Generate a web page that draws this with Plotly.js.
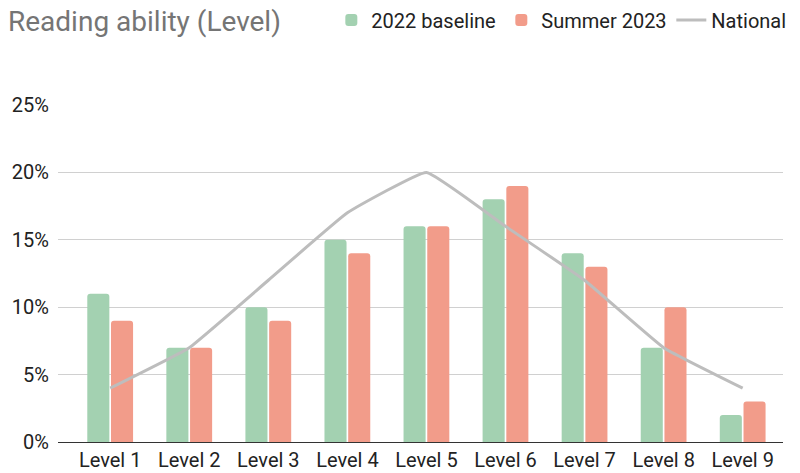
<!DOCTYPE html>
<html><head><meta charset="utf-8">
<script src="https://cdn.plot.ly/plotly-3.0.1.min.js"></script>
<style>html,body{margin:0;padding:0;background:#fff;}#chart{width:800px;height:473px;}</style>
</head><body><div id="chart"></div>
<script>
const categories = ["Level 1","Level 2","Level 3","Level 4","Level 5","Level 6","Level 7","Level 8","Level 9"];
const baseline2022 = [0.11,0.07,0.10,0.15,0.16,0.18,0.14,0.07,0.02];
const summer2023 = [0.09,0.07,0.09,0.14,0.16,0.19,0.13,0.10,0.03];
const national = [0.04,0.07,0.12,0.17,0.20,0.16,0.12,0.07,0.04];
const yTicks = [0,0.05,0.10,0.15,0.20,0.25];
const yTickLabels = ["0%","5%","10%","15%","20%","25%"];

const font = "Roboto, 'Open Sans', Arial, sans-serif";
const data = [
  {type:'bar', name:'2022 baseline', x:categories, y:baseline2022, marker:{color:'#a3d1b1', cornerradius:3}, hoverinfo:'none'},
  {type:'bar', name:'Summer 2023', x:categories, y:summer2023, marker:{color:'#f29c8a', cornerradius:3}, hoverinfo:'none'},
  {type:'scatter', mode:'lines', name:'National', x:categories, y:national, line:{color:'#bdbdbd', width:3, shape:'spline', smoothing:0.3}, hoverinfo:'none'}
];
const layout = {
  width:800, height:473,
  margin:{l:58, r:17, t:105, b:31, autoexpand:false},
  paper_bgcolor:'#fff', plot_bgcolor:'#fff',
  font:{family:font, size:20, color:'#222'},
  title:{text:'Reading ability (Level)', x:0.01, xanchor:'left', y:0.955, yanchor:'middle', font:{family:font, size:28, color:'#757575'}},
  barmode:'group', bargap:0.4, bargroupgap:0.07,
  showlegend:true,
  legend:{orientation:'h', x:0.377, xanchor:'left', y:1.252, yanchor:'middle', font:{family:font, size:20, color:'#222'}, traceorder:'normal', itemwidth:30, entrywidth:125},
  xaxis:{range:[-0.66,8.51], tickfont:{family:font, size:20, color:'#222'}, showgrid:false, showline:true, linecolor:'#333', linewidth:1, ticks:'', fixedrange:true},
  yaxis:{range:[0,0.25], tickvals:yTicks, ticktext:yTickLabels, tickfont:{family:font, size:20, color:'#222'}, showgrid:true, gridcolor:'#d0d0d0', gridwidth:1, zeroline:false, showline:false, ticks:'', ticklabelstandoff:8, fixedrange:true}
};
Plotly.newPlot('chart', data, layout, {displayModeBar:false, staticPlot:true});
</script></body></html>
